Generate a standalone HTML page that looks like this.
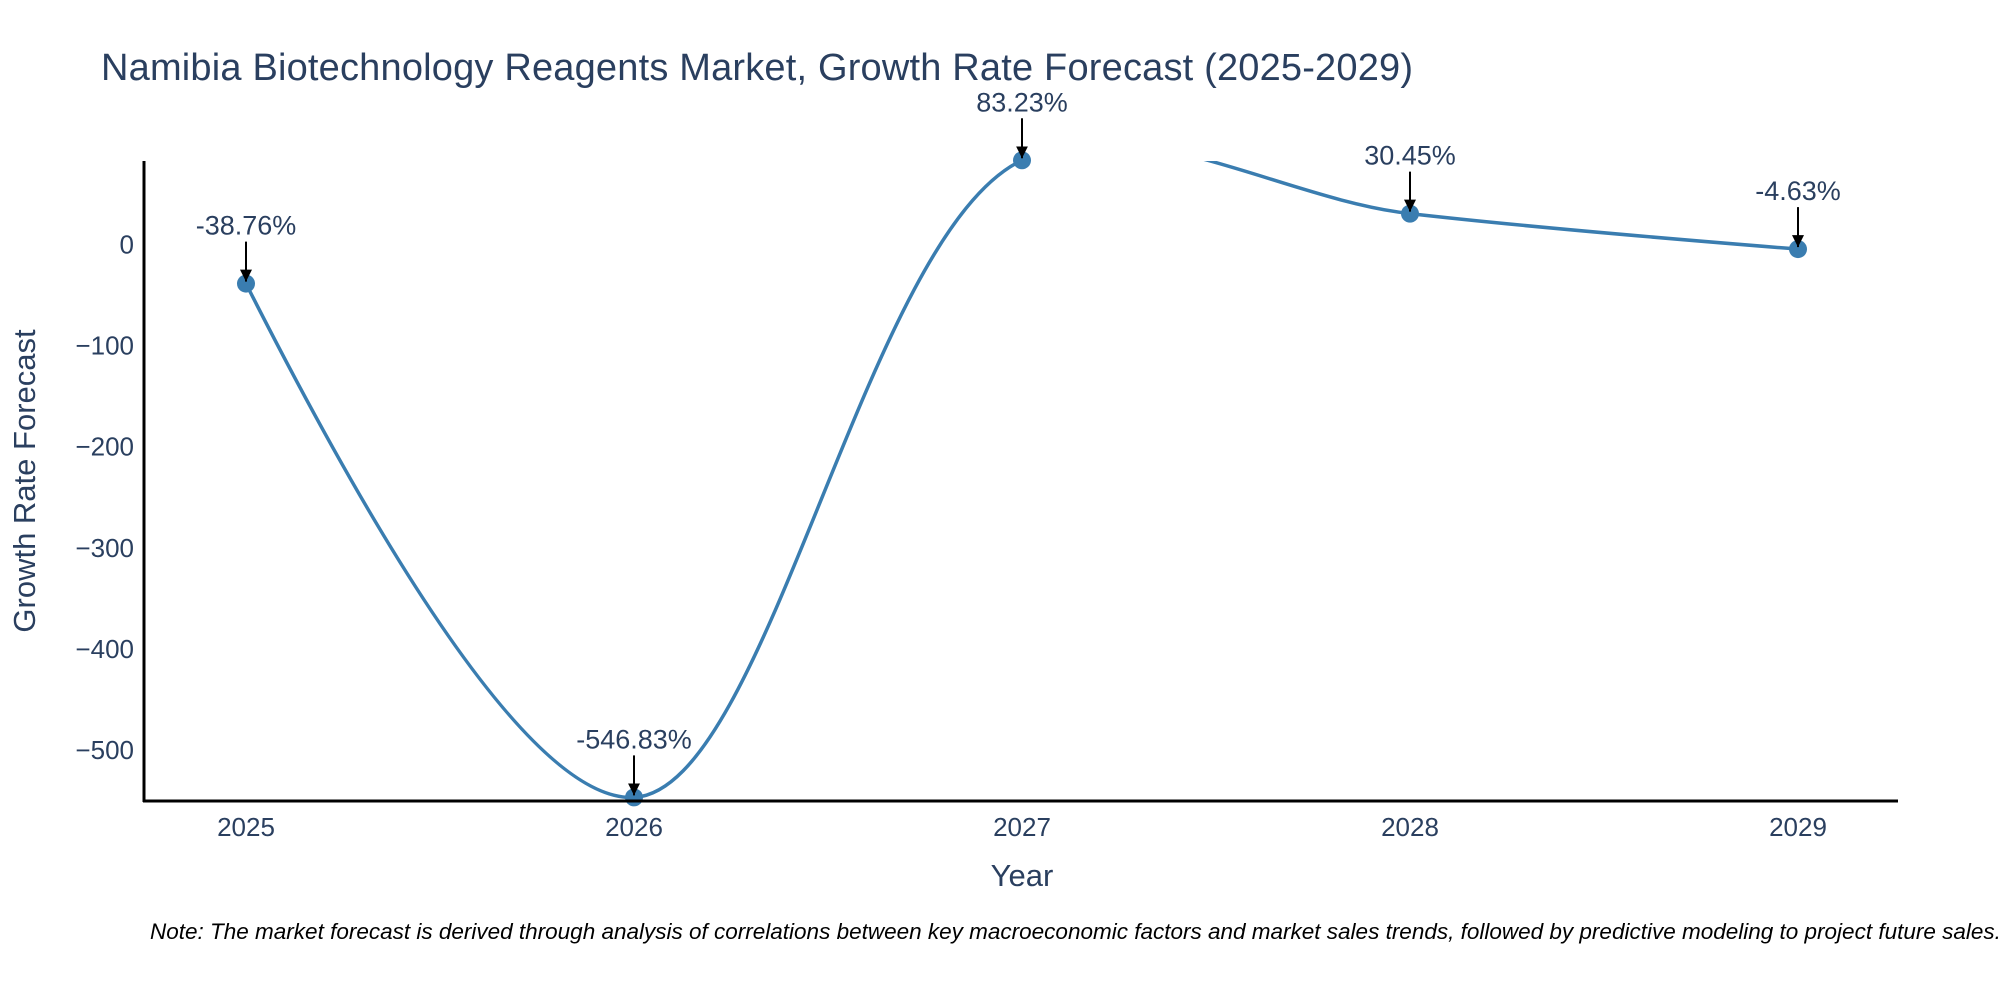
<!DOCTYPE html>
<html><head><meta charset="utf-8"><style>
html,body{margin:0;padding:0;background:#fff;}
svg{display:block;font-family:"Liberation Sans",sans-serif;}
</style></head><body>
<svg id="chart" width="2000" height="1000" viewBox="0 0 2000 1000">
<defs><clipPath id="plotclip"><rect x="144" y="161" width="1754" height="641"/></clipPath>
<marker id="arrowhead" viewBox="0 0 10 10" refX="10" refY="5" markerWidth="6" markerHeight="6" orient="auto"><path d="M0,0 L10,5 L0,10 z" fill="#000"/></marker></defs>
<text x="101" y="80" font-size="38" fill="#2a3f5f" textLength="1312">Namibia Biotechnology Reagents Market, Growth Rate Forecast (2025-2029)</text>
<g id="yticks"></g>
<g id="xticks"></g>
<path id="line" clip-path="url(#plotclip)" fill="none" stroke="#3a7db0" stroke-width="3.5"/>
<g id="points"></g>
<g id="annots"></g>
<line x1="144" y1="161" x2="144" y2="802" stroke="#000" stroke-width="3"/>
<line x1="143" y1="801" x2="1898" y2="801" stroke="#000" stroke-width="3"/>
<text transform="translate(35,481) rotate(-90)" text-anchor="middle" font-size="31" fill="#2a3f5f">Growth Rate Forecast</text>
<text x="1022" y="886" text-anchor="middle" font-size="31" fill="#2a3f5f">Year</text>
<text x="150" y="939" font-size="22.5" font-style="italic" fill="#000">Note: The market forecast is derived through analysis of correlations between key macroeconomic factors and market sales trends, followed by predictive modeling to project future sales.</text>
</svg>
<script>
const years = [2025, 2026, 2027, 2028, 2029];
const values = [-38.76, -546.83, 83.23, 30.45, -4.63];
const labels = ["-38.76%", "-546.83%", "83.23%", "30.45%", "-4.63%"];
const yTickValues = [0, -100, -200, -300, -400, -500];
const yTickLabels = ["0", "\u2212100", "\u2212200", "\u2212300", "\u2212400", "\u2212500"];

const NS = "http://www.w3.org/2000/svg";
const yMin = -550.4, yMax = 82.5, plotTop = 161, plotBottom = 801;
function yScale(v){ return plotBottom - (v - yMin) / (yMax - yMin) * (plotBottom - plotTop); }
function xScale(yr){ return 246 + (yr - 2025) * 388; }

const yt = document.getElementById('yticks');
yTickValues.forEach((v, i) => {
  const t = document.createElementNS(NS, 'text');
  
  
  t.setAttribute('x', 134); t.setAttribute('y', yScale(v) + 9);
  t.setAttribute('text-anchor', 'end'); t.setAttribute('font-size', '26'); t.setAttribute('fill', '#2a3f5f');
  t.textContent = yTickLabels[i]; yt.appendChild(t);
});
const xt = document.getElementById('xticks');
years.forEach(yr => {
  const t = document.createElementNS(NS, 'text');
  
  
  t.setAttribute('x', xScale(yr)); t.setAttribute('y', 836);
  t.setAttribute('text-anchor', 'middle'); t.setAttribute('font-size', '26'); t.setAttribute('fill', '#2a3f5f');
  t.textContent = String(yr); xt.appendChild(t);
});

const pts = years.map((yr, i) => [xScale(yr), yScale(values[i])]);
function makeTangent(prev, cur, next, sm) {
  const d1x = prev[0] - cur[0], d1y = prev[1] - cur[1];
  const d2x = next[0] - cur[0], d2y = next[1] - cur[1];
  const d1a = Math.pow(d1x * d1x + d1y * d1y, 0.25), d2a = Math.pow(d2x * d2x + d2y * d2y, 0.25);
  const numx = (d2a * d2a * d1x - d1a * d1a * d2x) * sm;
  const numy = (d2a * d2a * d1y - d1a * d1a * d2y) * sm;
  const den1 = 3 * d2a * (d1a + d2a), den2 = 3 * d1a * (d1a + d2a);
  return [[cur[0] + numx / den1, cur[1] + numy / den1], [cur[0] - numx / den2, cur[1] - numy / den2]];
}
const tangents = [];
for (let i = 1; i < pts.length - 1; i++) tangents.push(makeTangent(pts[i - 1], pts[i], pts[i + 1], 1));
let d = 'M' + pts[0] + ' Q' + tangents[0][0] + ' ' + pts[1];
for (let i = 1; i < pts.length - 2; i++) d += ' C' + tangents[i - 1][1] + ' ' + tangents[i][0] + ' ' + pts[i + 1];
d += ' Q' + tangents[pts.length - 3][1] + ' ' + pts[pts.length - 1];
document.getElementById('line').setAttribute('d', d);

const pg = document.getElementById('points'), ag = document.getElementById('annots');
pts.forEach((p, i) => {
  const c = document.createElementNS(NS, 'circle');
  
  
  c.setAttribute('cx', p[0]); c.setAttribute('cy', p[1]); c.setAttribute('r', 9); c.setAttribute('fill', '#3a7db0');
  pg.appendChild(c);
  const l = document.createElementNS(NS, 'line');
  
  
  l.setAttribute('x1', p[0]); l.setAttribute('y1', p[1] - 42); l.setAttribute('x2', p[0]); l.setAttribute('y2', p[1] - 2);
  l.setAttribute('stroke', '#000'); l.setAttribute('stroke-width', '2'); l.setAttribute('marker-end', 'url(#arrowhead)');
  ag.appendChild(l);
  const t = document.createElementNS(NS, 'text');
  
  
  t.setAttribute('x', p[0]); t.setAttribute('y', p[1] - 49);
  t.setAttribute('text-anchor', 'middle'); t.setAttribute('font-size', '27'); t.setAttribute('fill', '#2a3f5f');
  t.textContent = labels[i]; ag.appendChild(t);
});
</script>
</body></html>
